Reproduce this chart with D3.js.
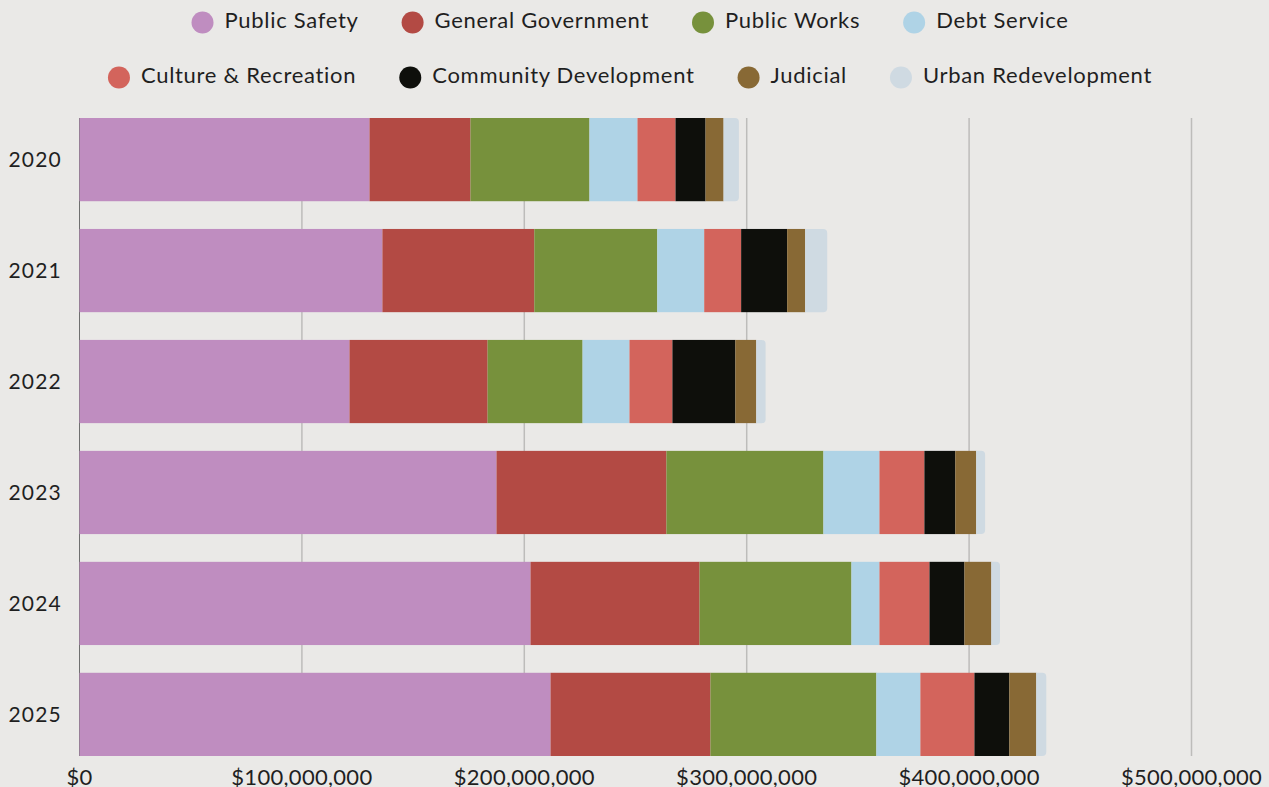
<!DOCTYPE html>
<html>
<head>
<meta charset="utf-8">
<script src="https://cdn.jsdelivr.net/npm/d3@7"></script>
<style>
  html, body { margin: 0; padding: 0; background: #eae9e7; }
  svg { display: block; font-family: Lato, "Noto Sans", sans-serif; }
</style>
</head>
<body>
<svg id="chart" width="1269" height="787"></svg>
<script>
// Annual expenditures by function, in dollars
const years = ["2020", "2021", "2022", "2023", "2024", "2025"];
const seriesNames = ["Public Safety", "General Government", "Public Works", "Debt Service",
  "Culture & Recreation", "Community Development", "Judicial", "Urban Redevelopment"];
const seriesColors = ["#bf8dc0", "#b34a44", "#77913c", "#afd3e6",
  "#d3645c", "#0e0f0b", "#886935", "#cfdae2"];

const publicSafety        = [130.4e6, 136.2e6, 121.4e6, 187.5e6, 202.8e6, 211.8e6];
const generalGovernment   = [ 45.4e6,  68.3e6,  62.1e6,  76.4e6,  76.0e6,  71.9e6];
const publicWorks         = [ 53.5e6,  55.3e6,  42.7e6,  70.6e6,  68.3e6,  74.6e6];
const debtService         = [ 21.6e6,  21.1e6,  21.1e6,  25.2e6,  12.6e6,  19.8e6];
const cultureRecreation   = [ 17.1e6,  16.6e6,  19.3e6,  20.2e6,  22.5e6,  24.3e6];
const communityDevelopment= [ 13.5e6,  20.7e6,  28.3e6,  13.9e6,  15.7e6,  15.7e6];
const judicial            = [  8.1e6,   8.1e6,   9.4e6,   9.4e6,  12.1e6,  12.1e6];
const urbanRedevelopment  = [  6.9e6,   9.9e6,   4.2e6,   4.0e6,   3.9e6,   4.5e6];

const xTicks = [0, 100e6, 200e6, 300e6, 400e6, 500e6];

const seriesValues = [publicSafety, generalGovernment, publicWorks, debtService,
  cultureRecreation, communityDevelopment, judicial, urbanRedevelopment];

const rows = years.map((y, i) => {
  const r = { year: y };
  seriesNames.forEach((n, k) => r[n] = seriesValues[k][i]);
  return r;
});

const svg = d3.select("#chart");
const plotTop = 118, plotBottom = 756, plotLeft = 79.5, plotRight = 1191.5;

const x = d3.scaleLinear().domain([0, 500e6]).range([plotLeft, plotRight]);
const y = d3.scaleBand().domain(years).range([plotTop, plotBottom])
  .paddingInner(0.25).paddingOuter(0);

const stacked = d3.stack().keys(seriesNames)(rows);

// Vertical grid lines
svg.append("g").selectAll("line")
  .data(xTicks.slice(1))
  .join("line")
  .attr("x1", d => x(d)).attr("x2", d => x(d))
  .attr("y1", plotTop).attr("y2", plotBottom)
  .attr("stroke", "#bdbcba").attr("stroke-width", 1.5);

// Left axis line
svg.append("line")
  .attr("x1", plotLeft).attr("x2", plotLeft)
  .attr("y1", plotTop).attr("y2", plotBottom)
  .attr("stroke", "#6f6f6f").attr("stroke-width", 1);

// Stacked bars; the last segment gets a rounded right end
const r = 4;
function roundedRight(x0, y0, w, h) {
  const rr = Math.min(r, w);
  return `M${x0},${y0}H${x0 + w - rr}Q${x0 + w},${y0} ${x0 + w},${y0 + rr}` +
    `V${y0 + h - rr}Q${x0 + w},${y0 + h} ${x0 + w - rr},${y0 + h}H${x0}Z`;
}

const layers = svg.append("g").selectAll("g")
  .data(stacked)
  .join("g")
  .attr("fill", (d, i) => seriesColors[i]);

layers.each(function(layer, li) {
  const g = d3.select(this);
  if (li === stacked.length - 1) {
    g.selectAll("path").data(layer).join("path")
      .attr("d", d => roundedRight(x(d[0]), y(d.data.year), x(d[1]) - x(d[0]), y.bandwidth()));
  } else {
    g.selectAll("rect").data(layer).join("rect")
      .attr("x", d => x(d[0]))
      .attr("y", d => y(d.data.year))
      .attr("width", d => x(d[1]) - x(d[0]))
      .attr("height", y.bandwidth());
  }
});

// Year labels
svg.append("g").selectAll("text")
  .data(years)
  .join("text")
  .attr("x", 62)
  .attr("y", d => y(d) + y.bandwidth() / 2)
  .attr("dy", "0.35em")
  .attr("text-anchor", "end")
  .attr("font-size", 21)
  .attr("letter-spacing", 1.2)
  .attr("fill", "#1f1f1f")
  .text(d => d);

// Value axis labels
const fmt = d3.format("$,");
svg.append("g").selectAll("text")
  .data(xTicks)
  .join("text")
  .attr("x", d => x(d))
  .attr("y", 785)
  .attr("text-anchor", "middle")
  .attr("font-size", 22)
  .attr("letter-spacing", 0.3)
  .attr("fill", "#1f1f1f")
  .text(d => fmt(d));

// Legend: two centred rows
const legendRows = [seriesNames.slice(0, 4), seriesNames.slice(4)];
const baselineY = [28, 83];
const cx = 630;
legendRows.forEach((names, ri) => {
  const g = svg.append("g");
  const items = names.map(n => {
    const t = g.append("text")
      .attr("font-size", 22)
      .attr("letter-spacing", 0.7)
      .attr("fill", "#1f1f1f")
      .attr("y", baselineY[ri])
      .text(n);
    return { n, t, w: t.node().getComputedTextLength() };
  });
  const rad = 11, gapCT = 11, gapItem = 43;
  const total = d3.sum(items, d => 2 * rad + gapCT + d.w) + gapItem * (items.length - 1);
  let cur = cx - total / 2;
  items.forEach(it => {
    const k = seriesNames.indexOf(it.n);
    g.append("circle")
      .attr("cx", cur + rad).attr("cy", baselineY[ri] - 5.5)
      .attr("r", rad).attr("fill", seriesColors[k]);
    it.t.attr("x", cur + 2 * rad + gapCT);
    cur += 2 * rad + gapCT + it.w + gapItem;
  });
});
</script>
</body>
</html>
